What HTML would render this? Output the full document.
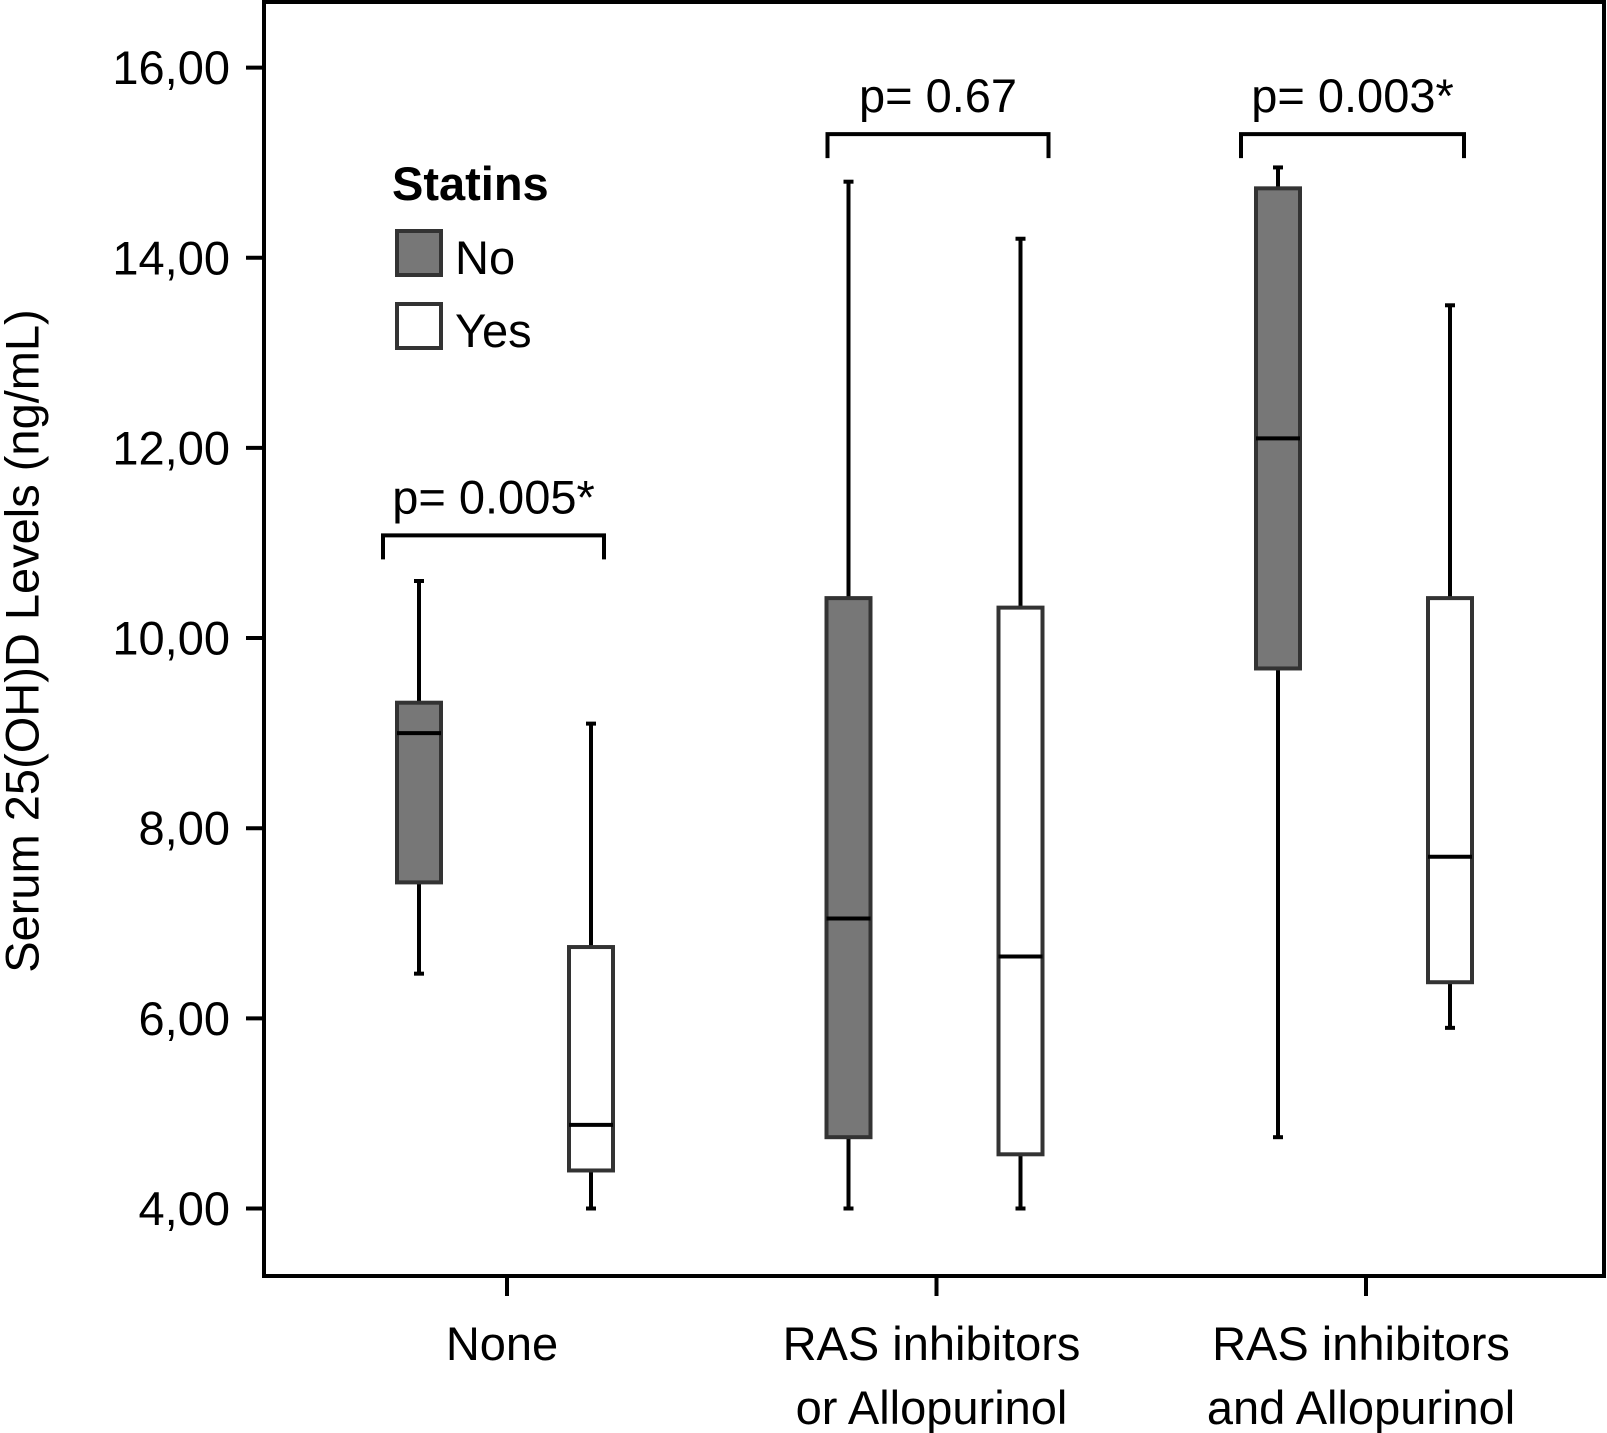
<!DOCTYPE html>
<html><head><meta charset="utf-8"><style>
html,body{margin:0;padding:0;background:#fff;}
svg{display:block;font-family:"Liberation Sans",sans-serif;}
</style></head><body>
<svg id="chart" width="1607" height="1433" viewBox="0 0 1607 1433">
<rect x="264" y="2" width="1340" height="1274" fill="none" stroke="#000" stroke-width="4"/>
<g id="yaxis"></g>
<g id="xaxis"></g>
<g id="boxes"></g>
<g id="brackets"></g>
<text x="22" y="641" transform="rotate(-90 22 641)" text-anchor="middle" dominant-baseline="central" font-size="47" fill="#000">Serum 25(OH)D Levels (ng/mL)</text>
<g>
<text x="392" y="200" font-size="47" font-weight="bold">Statins</text>
<rect x="397" y="231" width="44" height="44" fill="#777" stroke="#333" stroke-width="4"/>
<text x="455" y="274" font-size="47">No</text>
<rect x="397" y="304" width="44" height="44" fill="#fff" stroke="#333" stroke-width="4"/>
<text x="455" y="347" font-size="47">Yes</text>
</g>
</svg>
<script>
const yTicks = [4, 6, 8, 10, 12, 14, 16];
const yTickLabels = ["4,00","6,00","8,00","10,00","12,00","14,00","16,00"];
const categories = ["None", "RAS inhibitors|or Allopurinol", "RAS inhibitors|and Allopurinol"];
const pValues = ["p= 0.005*", "p= 0.67", "p= 0.003*"];
const bracketLevels = [11.08, 15.3, 15.3];
// per category: [No, Yes]
const whiskerLow  = [[6.47, 4.0], [4.0, 4.0], [4.75, 5.9]];
const q1          = [[7.43, 4.4], [4.75, 4.57], [9.68, 6.38]];
const medians     = [[9.0, 4.88], [7.05, 6.65], [12.1, 7.7]];
const q3          = [[9.32, 6.75], [10.42, 10.32], [14.73, 10.42]];
const whiskerHigh = [[10.6, 9.1], [14.8, 14.2], [14.95, 13.5]];

const NS = "http://www.w3.org/2000/svg";
function y(v){ return 1208.5 - (v - 4) * (1208.5 - 67.6) / 12; }
function xc(i){ return 507 + i * 429.5; }
function xb(i, s){ return xc(i) + (s === 0 ? -88 : 84); }
function mk(parent, tag, attrs){ const e = document.createElementNS(NS, tag); for (const k in attrs) e.setAttribute(k, attrs[k]); parent.appendChild(e); return e; }

const ya = document.getElementById('yaxis');
yTicks.forEach((t, i) => {
  const l = mk(ya, 'line', {x1: 246, x2: 264, y1: y(t), y2: y(t), stroke: '#000', 'stroke-width': 4});
  
  
  const tx = mk(ya, 'text', {x: 230, y: y(t), 'text-anchor': 'end', 'dominant-baseline': 'central', 'font-size': 47});
  tx.textContent = yTickLabels[i];
  
  
});

const xa = document.getElementById('xaxis');
categories.forEach((c, i) => {
  const l = mk(xa, 'line', {x1: xc(i), x2: xc(i), y1: 1276, y2: 1296, stroke: '#000', 'stroke-width': 4});
  
  
  c.split('|').forEach((line, j) => {
    const tx = mk(xa, 'text', {x: xc(i) - 5, y: 1360 + j * 64, 'text-anchor': 'middle', 'font-size': 47});
    tx.textContent = line;
    
    
  });
});

const bx = document.getElementById('boxes');
const W = 44;
categories.forEach((c, i) => {
  [0, 1].forEach(s => {
    const cx = xb(i, s);
    const g = mk(bx, 'g', {});
    
    
    mk(g, 'line', {x1: cx, x2: cx, y1: y(whiskerHigh[i][s]), y2: y(q3[i][s]), stroke: '#000', 'stroke-width': 4});
    mk(g, 'line', {x1: cx, x2: cx, y1: y(q1[i][s]), y2: y(whiskerLow[i][s]), stroke: '#000', 'stroke-width': 4});
    mk(g, 'line', {x1: cx - 5, x2: cx + 5, y1: y(whiskerHigh[i][s]), y2: y(whiskerHigh[i][s]), stroke: '#000', 'stroke-width': 4});
    mk(g, 'line', {x1: cx - 5, x2: cx + 5, y1: y(whiskerLow[i][s]), y2: y(whiskerLow[i][s]), stroke: '#000', 'stroke-width': 4});
    mk(g, 'rect', {x: cx - W/2, y: y(q3[i][s]), width: W, height: y(q1[i][s]) - y(q3[i][s]), fill: s === 0 ? '#777' : '#fff', stroke: '#333', 'stroke-width': 4});
    mk(g, 'line', {x1: cx - W/2, x2: cx + W/2, y1: y(medians[i][s]), y2: y(medians[i][s]), stroke: '#000', 'stroke-width': 4});
  });
});

const br = document.getElementById('brackets');
const leftOff = [-36, -21, -37];
const rightOff = [13, 28, 14];
pValues.forEach((p, i) => {
  const x1 = xb(i, 0) + leftOff[i], x2 = xb(i, 1) + rightOff[i], yy = y(bracketLevels[i]);
  const path = mk(br, 'path', {d: `M${x1} ${yy + 24} V${yy} H${x2} V${yy + 24}`, fill: 'none', stroke: '#000', 'stroke-width': 4});
  
  
  const tx = mk(br, 'text', {x: (x1 + x2) / 2, y: yy - 22, 'text-anchor': 'middle', 'font-size': 47});
  tx.textContent = p;
  
  
});
</script>
</body></html>
